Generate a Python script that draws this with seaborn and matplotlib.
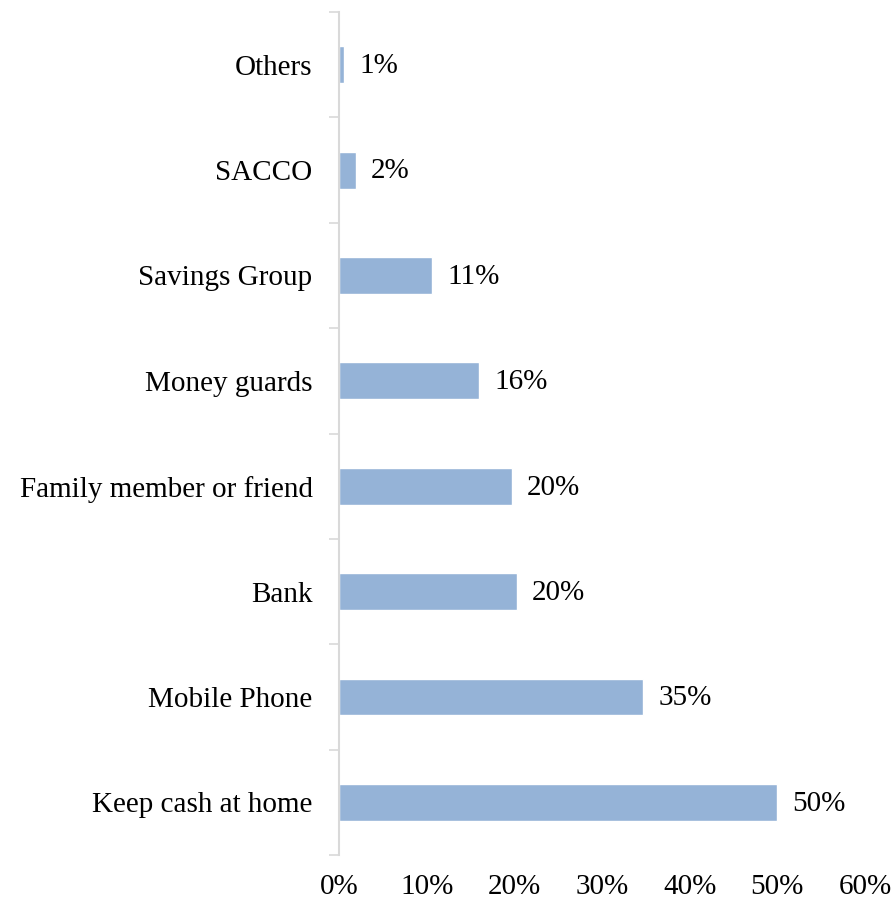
import matplotlib
matplotlib.use("Agg")
import matplotlib.pyplot as plt
from matplotlib.ticker import FixedLocator, FuncFormatter
import seaborn as sns
import pandas as pd

# Where people keep their savings (share of respondents, %)
categories = ["Others", "SACCO", "Savings Group", "Money guards",
              "Family member or friend", "Bank", "Mobile Phone",
              "Keep cash at home"]
shares = [0.6, 1.9, 10.6, 16.0, 19.7, 20.3, 34.7, 50.0]
x_ticks = [0, 10, 20, 30, 40, 50, 60]

df = pd.DataFrame({"category": categories, "share": shares})

sns.set_theme(style="white")
plt.rcParams["font.family"] = ["Liberation Serif", "DejaVu Serif"]

FS = 21

fig = plt.figure(figsize=(8.93, 9.02), dpi=100)
ax = fig.add_axes([0.3796, 0.0521, 0.589, 0.9346])

sns.barplot(data=df, x="share", y="category", order=categories,
            orient="h", color="#95B3D7", saturation=1, width=0.35, ax=ax)

ax.set_xlim(0, 60)
ax.set_ylim(len(categories) - 0.5, -0.5)
ax.set_xticks(x_ticks)
ax.xaxis.set_major_formatter(FuncFormatter(lambda v, p: f"{v:.0f}%"))
ax.tick_params(axis="x", length=0, pad=14, labelsize=FS, labelcolor="#000000")
ax.tick_params(axis="y", which="major", length=0, pad=19, labelsize=FS,
               labelcolor="#000000")
ax.yaxis.set_minor_locator(FixedLocator([i - 0.5 for i in range(len(categories) + 1)]))
ax.tick_params(axis="y", which="minor", left=True, length=7, width=1.2,
               color="#d9d9d9")
ax.set_xlabel("")
ax.set_ylabel("")

for side in ("top", "right", "bottom"):
    ax.spines[side].set_visible(False)
ax.spines["left"].set_color("#d9d9d9")
ax.spines["left"].set_linewidth(1.5)

for i, v in enumerate(shares):
    ax.annotate(f"{v:.0f}%", xy=(v, i), xytext=(11, -1),
                textcoords="offset points", ha="left", va="center",
                fontsize=FS, color="#000000")

fig.savefig("out.png", dpi=100)
